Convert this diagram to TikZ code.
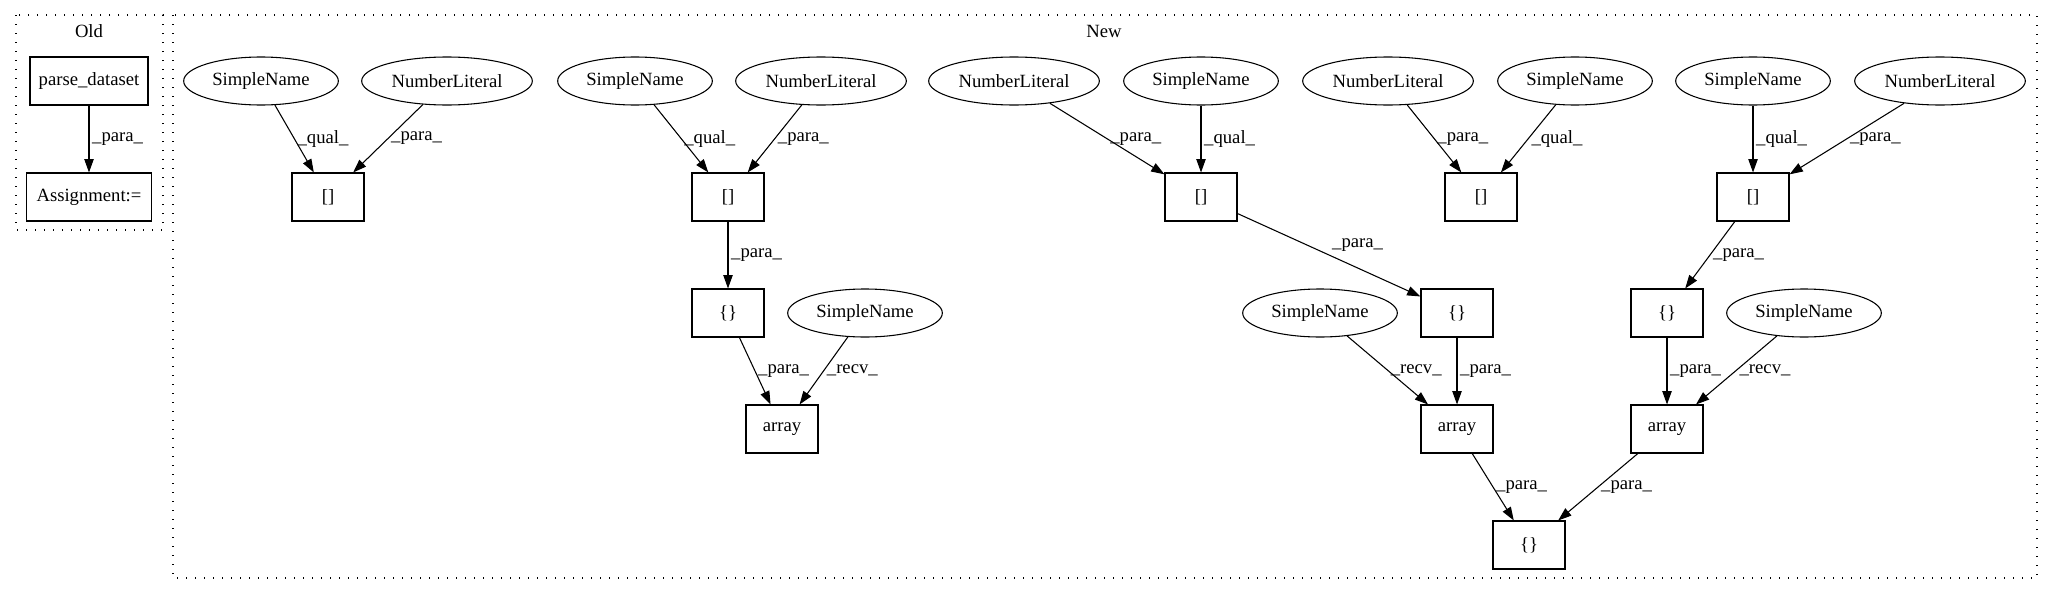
\documentclass[tikz,border=0pt]{standalone}
\usepackage{fontspec}
\setmainfont{Liberation Serif}
\usepackage{tikz}
\usetikzlibrary{arrows.meta, shapes.geometric}

\newcommand{\gvfont}{\fontsize{14pt}{16pt}\selectfont}

\begin{document}
\begin{tikzpicture}[
  x=0.75pt, y=-0.75pt, line width=0.8pt,
  box/.style = {draw, minimum height=36pt, minimum width=54pt, inner sep=0pt, font=\gvfont},
  ell/.style = {draw, ellipse, minimum height=36pt, inner sep=0pt, font=\gvfont},
  simple/.style = {ell, minimum width=116pt},
  numlit/.style = {ell, minimum width=128pt},
  arrow/.style = {-{Triangle[length=10pt,width=7pt]}},
  lbl/.style = {font=\gvfont, inner sep=2pt},
  cluster/.style = {draw, dash pattern=on 1pt off 5.75pt}
]

  \fill[white] (0,0) rectangle (2052,596);
  \useasboundingbox (0,0) rectangle (2052,596);

  % Old
  \draw[cluster] (16,15) rectangle (163,230);
  \node[lbl] (oldlbl) at (89,31) {Old};
  \node[box, minimum width=88.5pt] (parse) at (89,81) {parse\_dataset};
  \node[box, minimum width=93.75pt] (assign) at (89,197) {Assignment:=};

  \draw[arrow] (parse) -- (assign) node[midway,right,lbl] {\_para\_};

  % New
  \draw[cluster] (173,15) rectangle (2037,578);
  \node[lbl] (newlbl) at (1104,31) {New};

  % top row
  \node[simple] (sn1) at (261,81) {SimpleName};
  \node[numlit] (nl1) at (447,81) {NumberLiteral};
  \node[simple] (sn2) at (635,81) {SimpleName};
  \node[numlit] (nl2) at (821,81) {NumberLiteral};
  \node[numlit] (nl3) at (1014,81) {NumberLiteral};
  \node[simple] (sn3) at (1201,81) {SimpleName};
  \node[numlit] (nl4) at (1388,81) {NumberLiteral};
  \node[simple] (sn4) at (1575,81) {SimpleName};
  \node[simple] (sn5) at (1753,81) {SimpleName};
  \node[numlit] (nl5) at (1940,81) {NumberLiteral};

  % index nodes
  \node[box] (idx1) at (328,197) {[]};
  \node[box] (idx2) at (728,197) {[]};
  \node[box] (idx3) at (1201,197) {[]};
  \node[box] (idx4) at (1481,197) {[]};
  \node[box] (idx5) at (1753,197) {[]};

  % initializers and receivers
  \node[box] (init1) at (728,313) {\{\}};
  \node[simple] (recv1) at (865,313) {SimpleName};
  \node[simple] (recv2) at (1320,313) {SimpleName};
  \node[box] (init2) at (1457,313) {\{\}};
  \node[box] (init3) at (1667,313) {\{\}};
  \node[simple] (recv3) at (1804,313) {SimpleName};

  % array calls
  \node[box] (arr1) at (782,429) {array};
  \node[box] (arr2) at (1457,429) {array};
  \node[box] (arr3) at (1667,429) {array};
  \node[box] (init4) at (1529,545) {\{\}};

  \draw[arrow] (sn1) -- (idx1) node[midway,right,lbl] {\_qual\_};
  \draw[arrow] (nl1) -- (idx1) node[midway,right,lbl] {\_para\_};
  \draw[arrow] (sn2) -- (idx2) node[midway,right,lbl] {\_qual\_};
  \draw[arrow] (nl2) -- (idx2) node[midway,right,lbl] {\_para\_};
  \draw[arrow] (nl3) -- (idx3) node[midway,right,lbl] {\_para\_};
  \draw[arrow] (sn3) -- (idx3) node[midway,right,lbl] {\_qual\_};
  \draw[arrow] (nl4) -- (idx4) node[midway,right,lbl] {\_para\_};
  \draw[arrow] (sn4) -- (idx4) node[midway,right,lbl] {\_qual\_};
  \draw[arrow] (sn5) -- (idx5) node[midway,right,lbl] {\_qual\_};
  \draw[arrow] (nl5) -- (idx5) node[midway,right,lbl] {\_para\_};

  \draw[arrow] (idx2) -- (init1) node[midway,right,lbl] {\_para\_};
  \draw[arrow] (idx3) -- (init2) node[midway,above right,lbl] {\_para\_};
  \draw[arrow] (idx5) -- (init3) node[midway,right,lbl] {\_para\_};

  \draw[arrow] (init1) -- (arr1) node[midway,right,lbl] {\_para\_};
  \draw[arrow] (recv1) -- (arr1) node[midway,right,lbl] {\_recv\_};
  \draw[arrow] (recv2) -- (arr2) node[midway,right,lbl] {\_recv\_};
  \draw[arrow] (init2) -- (arr2) node[midway,right,lbl] {\_para\_};
  \draw[arrow] (init3) -- (arr3) node[midway,right,lbl] {\_para\_};
  \draw[arrow] (recv3) -- (arr3) node[midway,right,lbl] {\_recv\_};

  \draw[arrow] (arr2) -- (init4) node[midway,right,lbl] {\_para\_};
  \draw[arrow] (arr3) -- (init4) node[midway,right,lbl] {\_para\_};

\end{tikzpicture}
\end{document}
